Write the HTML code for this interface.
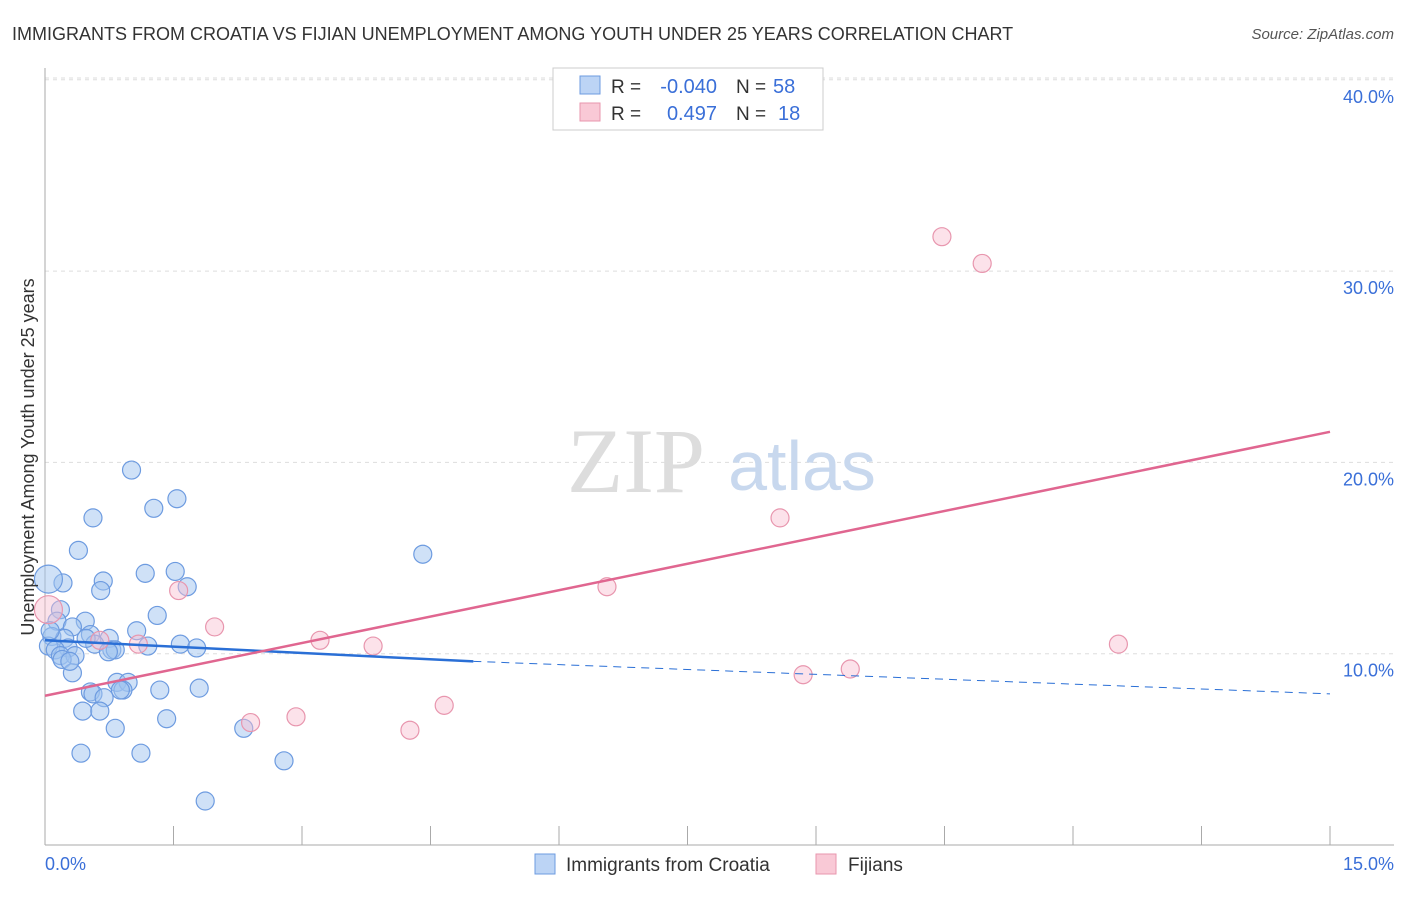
<!DOCTYPE html>
<html><head><meta charset="utf-8"><style>
body{margin:0;background:#fff;font-family:"Liberation Sans",sans-serif;}
</style></head><body>
<svg width="1406" height="892" xmlns="http://www.w3.org/2000/svg">
<text x="12" y="40" font-size="18" fill="#333">IMMIGRANTS FROM CROATIA VS FIJIAN UNEMPLOYMENT AMONG YOUTH UNDER 25 YEARS CORRELATION CHART</text>
<text x="1394" y="39" font-size="15" fill="#555" font-style="italic" text-anchor="end">Source: ZipAtlas.com</text>
<g id="grid"></g>
<line x1="45" y1="68" x2="45" y2="845" stroke="#aaa"/>
<line x1="45" y1="845" x2="1394" y2="845" stroke="#aaa"/>
<g id="xt"></g>
<text x="636" y="492" font-size="92" fill="#ddd" font-family="Liberation Serif" text-anchor="middle">ZIP</text>
<text x="802" y="490" font-size="70" fill="#c8d8ee" text-anchor="middle">atlas</text>
<g id="pts"></g>
<g id="trend"></g>
<text x="34" y="457" font-size="18" fill="#333" text-anchor="middle" transform="rotate(-90 34 457)">Unemployment Among Youth under 25 years</text>
<text x="45" y="870" font-size="18" fill="#3a6fd8">0.0%</text>
<text x="1394" y="870" font-size="18" fill="#3a6fd8" text-anchor="end">15.0%</text>
<g>
<rect x="553" y="68" width="270" height="62" fill="#fff" stroke="#ccc"/>
<rect x="580" y="76" width="20" height="18" fill="#bcd4f5" stroke="#6d9be0"/>
<rect x="580" y="103" width="20" height="18" fill="#f9c9d6" stroke="#e896ae"/>
<text x="611" y="93" font-size="19" fill="#333">R =</text>
<text x="717" y="93" font-size="20" fill="#3a6fd8" text-anchor="end">-0.040</text>
<text x="736" y="93" font-size="19" fill="#333">N =</text>
<text x="773" y="93" font-size="20" fill="#3a6fd8">58</text>
<text x="611" y="120" font-size="19" fill="#333">R =</text>
<text x="717" y="120" font-size="20" fill="#3a6fd8" text-anchor="end">0.497</text>
<text x="736" y="120" font-size="19" fill="#333">N =</text>
<text x="778" y="120" font-size="20" fill="#3a6fd8">18</text>
</g>
<g>
<rect x="535" y="854" width="20" height="20" fill="#bcd4f5" stroke="#6d9be0"/>
<text x="566" y="871" font-size="19" fill="#333">Immigrants from Croatia</text>
<rect x="816" y="854" width="20" height="20" fill="#f9c9d6" stroke="#e896ae"/>
<text x="848" y="871" font-size="19" fill="#333">Fijians</text>
</g>
</svg>
<script>
const yTicks=[10,20,30,40];
const xTickCount=10;
const blueX=[1.01,1.54,0.56,1.27,0.39,4.41,1.17,1.52,0.68,1.66,0.21,0.04,0.65,1.31,0.18,0.14,0.47,0.32,1.07,0.53,0.75,0.08,0.23,0.27,0.58,0.78,0.82,1.20,1.58,1.77,0.04,0.12,0.18,0.35,0.20,0.32,0.84,0.97,0.53,0.56,0.91,0.88,1.34,1.80,0.69,0.44,0.64,1.42,0.82,2.32,0.42,1.12,2.79,1.87,0.06,0.29,0.48,0.74];
const blueY=[19.6,18.1,17.1,17.6,15.4,15.2,14.2,14.3,13.8,13.5,13.7,13.9,13.3,12.0,12.3,11.7,11.7,11.4,11.2,11.0,10.8,10.9,10.8,10.3,10.5,10.2,10.2,10.4,10.5,10.3,10.4,10.2,9.9,9.9,9.7,9.0,8.5,8.5,8.0,7.9,8.1,8.1,8.1,8.2,7.7,7.0,7.0,6.6,6.1,6.1,4.8,4.8,4.4,2.3,11.2,9.6,10.8,10.1];
const blueR=[9,9,9,9,9,9,9,9,9,9,9,14,9,9,9,9,9,9,9,9,9,9,9,9,9,9,9,9,9,9,9,9,9,9,9,9,9,9,9,9,9,9,9,9,9,9,9,9,9,9,9,9,9,9,9,9,9,9];
const pinkX=[10.47,10.94,8.58,6.56,1.56,1.98,3.21,3.83,1.09,0.64,12.53,9.40,8.85,2.40,2.93,4.66,4.26,0.04];
const pinkY=[31.8,30.4,17.1,13.5,13.3,11.4,10.7,10.4,10.5,10.7,10.5,9.2,8.9,6.4,6.7,7.3,6.0,12.3];
const pinkR=[9,9,9,9,9,9,9,9,9,9,9,9,9,9,9,9,9,14];
const blueTrend=[[0,10.7],[5,9.6],[15,7.9]];
const pinkTrend=[[0,7.8],[15,21.6]];
const X=v=>45+v*1285/15, Y=v=>845-v*19.13;
const NS='http://www.w3.org/2000/svg';
function mk(p,t,a){const e=document.createElementNS(NS,t);for(const k in a)e.setAttribute(k,a[k]);document.getElementById(p).appendChild(e);return e;}
yTicks.forEach(t=>{const l=mk('grid','line',{x1:45,x2:1394,y1:Y(t),y2:Y(t),stroke:'#ddd','stroke-dasharray':'4,4'});


const tx=mk('grid','text',{x:1394,y:Y(t)+23,'font-size':18,fill:'#3a6fd8','text-anchor':'end'});tx.textContent=t.toFixed(1)+'%';

});
const topLine=mk('grid','line',{x1:45,x2:1394,y1:78,y2:78,stroke:'#ddd','stroke-dasharray':'4,4'});


for(let i=1;i<=xTickCount;i++){const l=mk('xt','line',{x1:X(i*1.5),x2:X(i*1.5),y1:826,y2:845,stroke:'#aaa'});

}
blueX.forEach((x,i)=>{const c=mk('pts','circle',{cx:X(x),cy:Y(blueY[i]),r:blueR[i],fill:'rgba(160,195,240,0.5)',stroke:'#6d9be0','stroke-width':1.2});

});
pinkX.forEach((x,i)=>{const c=mk('pts','circle',{cx:X(x),cy:Y(pinkY[i]),r:pinkR[i],fill:'rgba(248,190,208,0.45)',stroke:'#e896ae','stroke-width':1.2});

});
let b=mk('trend','line',{x1:X(blueTrend[0][0]),y1:Y(blueTrend[0][1]),x2:X(blueTrend[1][0]),y2:Y(blueTrend[1][1]),stroke:'#2a6fd6','stroke-width':2.5});


b=mk('trend','line',{x1:X(blueTrend[1][0]),y1:Y(blueTrend[1][1]),x2:X(blueTrend[2][0]),y2:Y(blueTrend[2][1]),stroke:'#2a6fd6','stroke-width':1,'stroke-dasharray':'8,6'});


const p=mk('trend','line',{x1:X(pinkTrend[0][0]),y1:Y(pinkTrend[0][1]),x2:X(pinkTrend[1][0]),y2:Y(pinkTrend[1][1]),stroke:'#e06690','stroke-width':2.5});


</script>
</body></html>
